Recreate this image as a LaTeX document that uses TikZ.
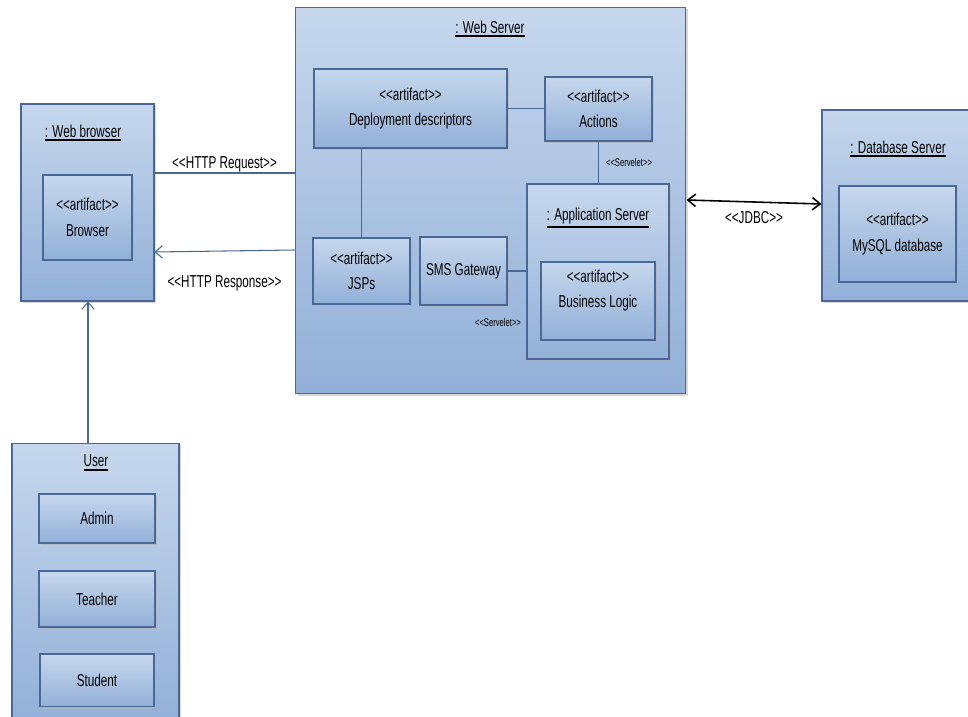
\documentclass[tikz,border=0pt]{standalone}
\usepackage{fontspec}
\setmainfont[FakeStretch=0.68]{Liberation Sans}
\usetikzlibrary{shadows}
\usetikzlibrary{arrows.meta}
\usetikzlibrary{positioning}
\usepackage{xcolor}

\definecolor{boxtop}{RGB}{198,215,237}
\definecolor{boxbot}{RGB}{146,176,216}
\definecolor{boxline}{RGB}{74,104,150}

\newcommand{\stereo}[1]{<{}<#1>{}>}
\newcommand{\nametag}[1]{\vtop{\hbox{#1}\kern1pt\hrule height 1.1pt}}

\begin{document}
\begin{tikzpicture}[x=0.02cm, y=-0.02cm, on grid,
  box/.style={draw=boxline, line width=0.6pt, top color=boxtop, bottom color=boxbot,
    inner sep=0pt, align=center, font=\fontsize{9.8}{14.5}\selectfont,
    drop shadow={shadow xshift=1.4pt, shadow yshift=-1.4pt, fill=black!30, opacity=0.5}},
  title/.style={inner sep=0pt, font=\fontsize{9.8}{11}\selectfont},
  link/.style={draw=boxline, line width=0.6pt},
  tag/.style={inner sep=0pt, font=\fontsize{9.8}{11}\selectfont},
  small tag/.style={inner sep=0pt, font=\fontsize{6.4}{7}\selectfont},
  tip/.style={-{Straight Barb[length=4pt, width=7pt]}}]
  \useasboundingbox (0,0) rectangle (968,717);

  % Web browser
  \node[box, minimum width=2.66cm, minimum height=3.94cm] (browser) at (87.5,202.5) {};
  \node[title] (browserName) at (83,133) {\nametag{: Web browser}};
  \node[box, minimum width=1.78cm, minimum height=1.70cm] (browserArt) at (87.5,217.5) {\stereo{artifact}\\Browser};

  % Web server
  \node[box, minimum width=7.82cm, minimum height=7.74cm] (server) at (490.5,200.5) {};
  \node[title] (serverName) at (490,29) {\nametag{: Web Server}};
  \node[box, minimum width=3.86cm, minimum height=1.58cm] (dd) at (410.5,108.5) {\stereo{artifact}\\Deployment descriptors};
  \node[box, minimum width=2.14cm, minimum height=1.28cm] (actions) at (598.5,109) {\stereo{artifact}\\Actions};
  \node[box, minimum width=1.94cm, minimum height=1.32cm] (jsps) at (361.5,271) {\stereo{artifact}\\JSPs};
  \node[box, minimum width=1.74cm, minimum height=1.36cm] (sms) at (463.5,271) {SMS Gateway};
  \node[box, minimum width=2.84cm, minimum height=3.50cm] (app) at (598,271.5) {};
  \node[title] (appName) at (598,218) {\nametag{: Application Server}};
  \node[box, minimum width=2.28cm, minimum height=1.56cm, text depth=14pt] (logic) at (598,301) {\stereo{artifact}\\Business Logic};
  \node[small tag] (smsTag) at (498,322) {\stereo{Servelet}};

  % Database server
  \node[box, minimum width=3.06cm, minimum height=3.82cm] (db) at (898.5,205.5) {};
  \node[title] (dbName) at (898,149) {\nametag{: Database Server}};
  \node[box, minimum width=2.34cm, minimum height=1.92cm] (mysql) at (897.5,234) {\stereo{artifact}\\MySQL database};

  % User
  \node[box, minimum width=3.34cm, minimum height=5.64cm] (user) at (95.5,584) {};
  \node[title] (userName) at (96,463) {\nametag{User}};
  \node[box, minimum width=2.32cm, minimum height=0.98cm] (admin) at (97,518.5) {Admin};
  \node[box, minimum width=2.32cm, minimum height=1.12cm, below=1.61cm of admin] (teacher) {Teacher};
  \node[box, minimum width=2.28cm, minimum height=1.06cm, below=1.63cm of teacher] (student) {Student};

  % Links inside the web server
  \draw[link] (dd.east) -- (dd.east -| actions.west);
  \draw[link] (jsps.north) -- (jsps.north |- dd.south);
  \draw[link] (actions.south) -- (actions.south |- app.north)
    node[small tag, midway, right=4pt] (actionsTag) {\stereo{Servelet}};
  \draw[link] (sms.east) -- (sms.east -| app.west);

  % HTTP between browser and server
  \draw[link] (browser.east |- 0,173) -- (server.west |- 0,173)
    node[tag, midway, above=0.5pt] (reqTag) {\stereo{HTTP Request}};
  \draw[link, tip] (server.west |- 0,250) -- (browser.east |- 0,252)
    node[tag, midway, below=14pt] (respTag) {\stereo{HTTP Response}};

  % JDBC
  \draw[line width=0.9pt, {Straight Barb[length=4.5pt, width=7pt]}-{Straight Barb[length=4.5pt, width=7pt]}]
    (server.east |- 0,200) -- (db.west |- 0,204)
    node[tag, midway, below=5pt] (jdbcTag) {\stereo{JDBC}};

  % User to browser
  \draw[link, tip] (user.north -| 88,0) -- (browser.south -| 88,0);
\end{tikzpicture}
\end{document}
